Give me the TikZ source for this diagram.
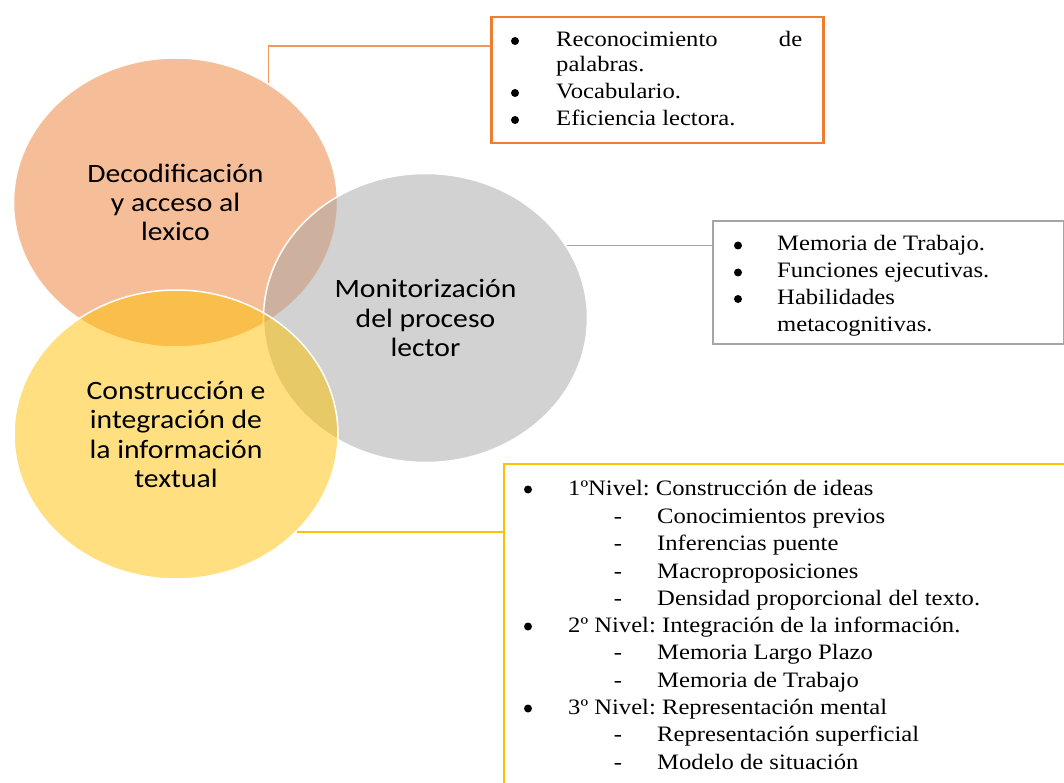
\documentclass[tikz,border=0pt]{standalone}
\usepackage{fontspec}
\newfontfamily\boxfont{Liberation Serif}[FakeStretch=1.12]
\newfontfamily\vennfont{Carlito}[FakeStretch=1.12]
\usetikzlibrary{shapes.geometric,positioning}
\definecolor{accorange}{HTML}{ED7D31}
\definecolor{accgray}{HTML}{A5A5A5}
\definecolor{accgold}{HTML}{FFC000}
\frenchspacing

\begin{document}
\begin{tikzpicture}[
    x=1pt, y=-1pt,
    venn/.style={
        ellipse, draw=white, line width=1.5pt,
        minimum width=324pt, minimum height=289pt,
        inner sep=0pt, fill opacity=.5, text opacity=1,
        align=center,
        font=\vennfont\fontsize{26.5}{29.3}\selectfont
    },
    listbox/.style={rectangle, draw, line width=2pt, anchor=north west, inner sep=0pt},
    item/.style={anchor=base west, inner sep=0pt, font=\boxfont\fontsize{22}{26}\selectfont},
    mark dot/.style={circle, fill=black, inner sep=0pt, minimum size=8pt},
    mark dash/.style={anchor=base, inner sep=0pt, font=\boxfont\fontsize{22}{26}\selectfont},
    link/.style={line width=1.5pt}
]
\useasboundingbox (0,0) rectangle (1064,783);

% circles
\node[venn, fill=accorange] (dec) at (175.5,202.5) {Decodificación\\y acceso al\\lexico};
\node[venn, fill=accgray] (mon) at (425.5,318) {Monitorización\\del proceso\\lector};
\node[venn, fill=accgold] (con) at (176,434.5) {Construcción e\\integración de\\la información\\textual};

% boxes
\node[listbox, draw=accorange, line width=2.5pt, minimum width=332pt, minimum height=126pt] (reco) at (490,16) {};
\node[listbox, draw=accgray, minimum width=351pt, minimum height=123pt] (memo) at (712,220) {};
\node[listbox, draw=accgold, minimum width=600pt, minimum height=400pt] (lvl) at (503,463) {};

% connectors
\draw[link, accorange!80] (dec.52) |- ([yshift=34pt]reco.west);
\draw[link, accgray, line width=1pt] (mon.27) -- (mon.27 -| memo.west);
\draw[link, accgold] (con.-39) -- (con.-39 -| lvl.west);

% first list
\node[mark dot] (reco-b1) at (515,41) {};
\node[item] (reco-t1) at (556,46.5) {\makebox[246pt]{Reconocimiento\hfill de}};
\node[item] (reco-t2) at (556,72) {palabras.};
\node[mark dot] (reco-b3) at (515,93) {};
\node[item] (reco-t3) at (556,98.5) {Vocabulario.};
\node[mark dot] (reco-b4) at (515,120) {};
\node[item] (reco-t4) at (556,125.5) {Eficiencia lectora.};

% second list
\begin{scope}
\clip (memo.north west) rectangle ([yshift=9pt]memo.south east);
\foreach \yy/\txt [count=\i] in {251/Memoria de Trabajo., 278/Funciones ejecutivas., 304.5/Habilidades}{
    \node[mark dot] (memo-b\i) at (738,\yy-5.5) {};
    \node[item] (memo-t\i) at (777,\yy) {\txt};
}
\node[item] (memo-t4) at (777,331.5) {metacognitivas.};
\end{scope}

% third list
\foreach \yy/\txt [count=\i] in {495/1ºNivel: Construcción de ideas,
    632/2º Nivel: Integración de la información.,
    714/3º Nivel: Representación mental}{
    \node[mark dot] (lvl-b\i) at (528,\yy-5.5) {};
    \node[item] (lvl-t\i) at (568,\yy) {\txt};
}
\foreach \yy/\txt [count=\i] in {523/Conocimientos previos, 550.5/Inferencias puente,
    578/Macroproposiciones, 605.5/Densidad proporcional del texto.,
    659.5/Memoria Largo Plazo, 687/Memoria de Trabajo,
    741.5/Representación superficial, 769/Modelo de situación}{
    \node[mark dash] (lvl-d\i) at (618,\yy) {-};
    \node[item] (lvl-s\i) at (657,\yy) {\txt};
}
\end{tikzpicture}
\end{document}
